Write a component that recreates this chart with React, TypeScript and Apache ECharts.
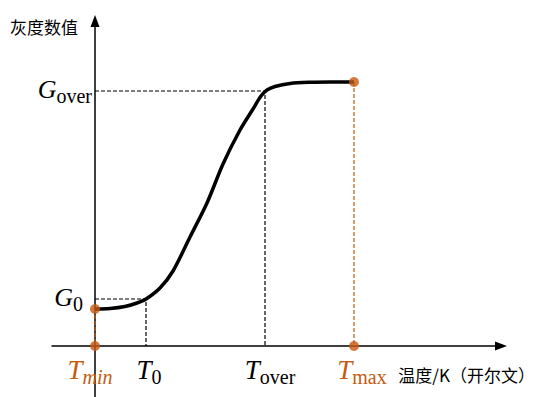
import React, { useEffect, useRef } from "react";
import * as echarts from "echarts";

// Temperature (x) and gray value (y) in arbitrary units
const curveT = [0, 15, 30, 42, 51, 65, 78, 95, 112, 128, 145, 158, 166, 172, 180, 195, 215, 235, 259];
const curveG = [37, 37.5, 39.5, 43, 47, 58, 75, 109, 143, 182, 216, 237, 250, 256, 259.5, 262.5, 263.7, 264, 264];

const tTicks = [0, 51, 170, 259]; // Tmin, T0, Tover, Tmax
const tSubs = ["min", "0", "over", "max"];
const gTicks = [47, 255]; // G0, Gover
const gSubs = ["0", "over"];

const T_MIN = tTicks[0];
const T_0 = tTicks[1];
const T_OVER = tTicks[2];
const T_MAX = tTicks[3];
const G_0 = gTicks[0];
const G_OVER = gTicks[1];
const G_START = curveG[0];
const G_END = curveG[curveG.length - 1];

const ORANGE = "#C55A11";
const SERIF = "Liberation Serif";

export default function App() {
  const ref = useRef<HTMLDivElement>(null);
  useEffect(() => {
    const chart = echarts.init(ref.current!, null, { renderer: "svg" });
    const tColor = (i: number) => (i === 0 || i === 3 ? ORANGE : "#000");
    const xRich: any = {};
    tTicks.forEach((_, i) => {
      const padL = [0, 6, 10, 16][i];
      const padR = [10, 0, 0, 0][i];
      xRich["t" + i] = {
        fontFamily: SERIF,
        fontStyle: "italic",
        fontSize: 27,
        lineHeight: 30,
        color: tColor(i),
        verticalAlign: "bottom",
        padding: [0, 0, 4, padL],
      };
      xRich["s" + i] = {
        fontFamily: SERIF,
        fontStyle: i === 0 ? "italic" : "normal",
        fontSize: 20,
        lineHeight: 20,
        color: tColor(i),
        verticalAlign: "bottom",
        padding: [0, padR, 0, 0],
      };
    });
    const yRich: any = {};
    gTicks.forEach((_, i) => {
      const pt = [4, 12][i];
      const pb = [0, 0][i];
      const pr = [9, 0][i];
      yRich["g" + i] = {
        fontFamily: SERIF,
        fontStyle: "italic",
        fontSize: 26,
        lineHeight: 30,
        color: "#000",
        verticalAlign: "bottom",
        padding: [pt, 0, pb + 4, 0],
      };
      yRich["s" + i] = {
        fontFamily: SERIF,
        fontSize: 20,
        lineHeight: 20,
        color: "#000",
        verticalAlign: "bottom",
        padding: [pt, pr, pb, 0],
      };
    });

    const dashBlack = { color: "#000", width: 1.2, type: [4, 2] as any };
    const dashOrange = { color: ORANGE, width: 1.2, type: [4, 2] as any };
    const guide = (data: number[][], lineStyle: any) => ({
      type: "line",
      data,
      symbol: "none",
      lineStyle,
      z: 2,
      silent: true,
    });

    chart.setOption({
      animation: false,
      grid: {
        left: 52,
        right: 35,
        top: 21,
        bottom: 0,
        containLabel: false,
        outerBoundsMode: "none",
      },
      xAxis: {
        type: "value",
        min: -43,
        max: 406,
        offset: -51,
        splitLine: { show: false },
        axisTick: { show: false },
        axisLine: {
          onZero: false,
          symbol: ["none", "triangle"],
          symbolSize: [9, 12],
          lineStyle: { color: "#000", width: 1.5 },
        },
        axisLabel: {
          customValues: tTicks,
          margin: 11,
          formatter: (v: number) => {
            const i = tTicks.indexOf(Math.round(v));
            return i < 0 ? "" : `{t${i}|T}{s${i}|${tSubs[i]}}`;
          },
          rich: xRich,
        },
        name: "温度/K（开尔文）",
        nameLocation: "end",
        nameGap: 34,
        nameTextStyle: {
          fontFamily: "Noto Sans CJK SC",
          fontSize: 17,
          color: "#000",
          align: "right",
          verticalAlign: "top",
          padding: [20, 0, 0, 0],
        },
      },
      yAxis: {
        type: "value",
        min: -51,
        max: 325,
        offset: -43,
        splitLine: { show: false },
        axisTick: { show: false },
        axisLine: {
          onZero: false,
          symbol: ["none", "triangle"],
          symbolSize: [9, 12],
          lineStyle: { color: "#000", width: 1.5 },
        },
        axisLabel: {
          customValues: gTicks,
          margin: 3,
          formatter: (v: number) => {
            const i = gTicks.indexOf(Math.round(v));
            return i < 0 ? "" : `{g${i}|G}{s${i}|${gSubs[i]}}`;
          },
          rich: yRich,
        },
        name: "灰度数值",
        nameLocation: "end",
        nameGap: -14,
        nameTextStyle: {
          fontFamily: "Noto Sans CJK SC",
          fontSize: 17,
          color: "#000",
          align: "right",
          verticalAlign: "bottom",
          padding: [0, 17, 0, 0],
        },
      },
      series: [
        guide([[T_MIN, G_0], [T_0, G_0], [T_0, 0]], dashBlack),
        guide([[T_MIN, G_OVER], [T_OVER, G_OVER], [T_OVER, 0]], dashBlack),
        guide([[T_MIN, G_START], [T_MIN, 0]], dashOrange),
        guide([[T_MAX, G_END], [T_MAX, 0]], dashOrange),
        {
          type: "line",
          data: curveT.map((t, i) => [t, curveG[i]]),
          symbol: "none",
          smooth: 0.3,
          lineStyle: { color: "#000", width: 3.5 },
          z: 3,
        },
        {
          type: "scatter",
          data: [
            [T_MIN, G_START],
            [T_MIN, 0],
            [T_MAX, G_END],
            [T_MAX, 0],
          ],
          symbolSize: 10,
          itemStyle: { color: ORANGE },
          z: 5,
        },
      ],
    });
    return () => chart.dispose();
  }, []);
  return (
    <div
      ref={ref}
      style={{ position: "fixed", left: 0, top: 0, width: 536, height: 397, background: "#fff" }}
    />
  );
}
